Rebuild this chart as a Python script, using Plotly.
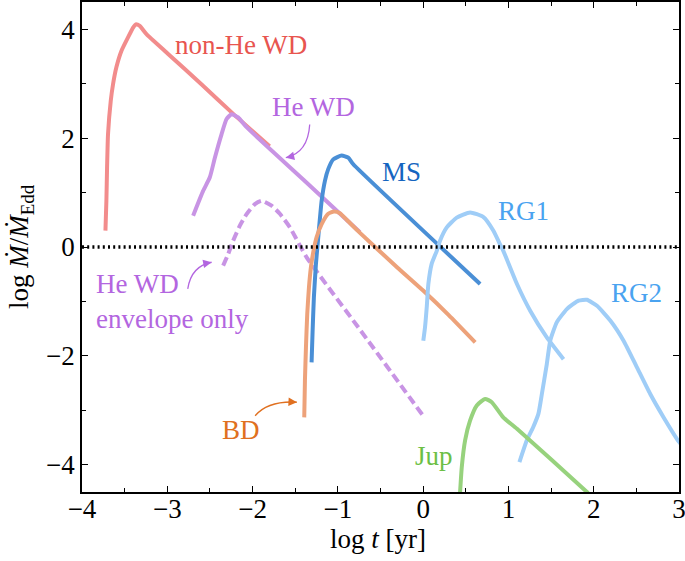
import math
import plotly.graph_objects as go

# ---------------- data ----------------
non_he_wd_x = [-3.725, -3.714, -3.706, -3.695, -3.663, -3.636, -3.597, -3.538, -3.46, -3.401, -3.37, -3.323, -3.244, -3.0, -2.6, -2.23, -1.80]
non_he_wd_y = [0.30, 0.85, 1.46, 2.07, 2.68, 2.99, 3.30, 3.60, 3.85, 4.03, 4.09, 4.06, 3.91, 3.56, 2.99, 2.45, 1.85]

he_wd_x = [-2.697, -2.58, -2.501, -2.442, -2.364, -2.305, -2.247, -2.169, -2.07, -1.4, -0.741]
he_wd_y = [0.574, 1.03, 1.28, 1.64, 2.07, 2.35, 2.44, 2.38, 2.20, 1.23, 0.27]

he_env_x = [-2.345, -2.286, -2.228, -2.149, -2.07, -1.973, -1.894, -1.777, -1.68, -1.562, -1.366, -0.761, 0.0]
he_env_y = [-0.343, -0.129, 0.116, 0.391, 0.605, 0.788, 0.85, 0.76, 0.61, 0.36, -0.19, -1.475, -3.10]

ms_x = [-1.308, -1.296, -1.281, -1.257, -1.23, -1.19, -1.151, -1.113, -1.054, -0.956, -0.878, -0.819, 0.668]
ms_y = [-2.12, -1.54, -0.92, -0.31, 0.18, 0.85, 1.22, 1.43, 1.61, 1.68, 1.64, 1.52, -0.68]

bd_x = [-1.394, -1.386, -1.374, -1.359, -1.339, -1.316, -1.289, -1.249, -1.19, -1.113, -1.046, -0.976, -0.897, -0.741, -0.3, 0.0, 0.3, 0.61]
bd_y = [-3.13, -2.45, -1.84, -1.23, -0.74, -0.37, -0.10, 0.18, 0.42, 0.61, 0.65, 0.62, 0.50, 0.26, -0.38, -0.80, -1.25, -1.75]

rg1_x = [0.002, 0.022, 0.042, 0.061, 0.10, 0.16, 0.198, 0.277, 0.394, 0.55, 0.707, 0.824, 0.90, 0.94, 1.10, 1.255, 1.45, 1.646]
rg1_y = [-1.72, -1.475, -1.11, -0.68, -0.31, -0.07, 0.116, 0.36, 0.54, 0.635, 0.55, 0.30, 0.055, -0.07, -0.68, -1.17, -1.66, -2.06]

rg2_x = [1.129, 1.216, 1.29, 1.352, 1.392, 1.45, 1.49, 1.568, 1.685, 1.822, 1.92, 2.038, 2.194, 2.35, 2.507, 2.663, 2.82, 3.0, 3.05]
rg2_y = [-3.95, -3.55, -3.31, -3.06, -2.70, -2.15, -1.72, -1.38, -1.14, -0.985, -0.97, -1.08, -1.35, -1.72, -2.21, -2.70, -3.13, -3.58, -3.67]

jup_x = [0.43, 0.433, 0.453, 0.492, 0.55, 0.629, 0.727, 0.805, 0.94, 1.10, 1.92, 1.95]
jup_y = [-4.55, -4.50, -4.04, -3.55, -3.19, -2.91, -2.79, -2.85, -3.13, -3.34, -4.50, -4.55]

x_ticks = [-4, -3, -2, -1, 0, 1, 2, 3]
y_ticks = [-4, -2, 0, 2, 4]

label_text = ["non-He WD", "He WD", "MS", "RG1", "RG2", "BD", "Jup"]
label_x = [-2.14, -1.29, -0.25, 1.18, 2.50, -2.13, 0.13]
label_y = [3.71, 2.57, 1.38, 0.67, -0.84, -3.37, -3.83]
label_color = ["#e8554f", "#b366e0", "#1565c0", "#4aa3f0", "#4aa3f0", "#e07020", "#6cbf45"]

env_text = "He WD<br>envelope only"
env_x = -3.86
env_y = -1.01

# curved arrows: start, control, end (data coords)
arrow_start = [(-1.33, 2.25), (-2.76, -0.77), (-1.97, -3.10)]
arrow_ctrl = [(-1.35, 1.73), (-2.72, -0.35), (-1.82, -2.82)]
arrow_end = [(-1.61, 1.64), (-2.48, -0.28), (-1.48, -2.85)]
arrow_color = ["#b366e0", "#b366e0", "#e07020"]

FONT = '"Liberation Serif", "Times New Roman", Times, "DejaVu Serif", serif'

X_PX = 597 / 7.0   # px per x unit
Y_PX = 490 / 9.0   # px per y unit

fig = go.Figure()

def add_line(x, y, color, dash="solid"):
    fig.add_trace(go.Scatter(x=x, y=y, mode="lines",
                             line=dict(color=color, width=4, dash=dash, shape="spline", smoothing=0.5),
                             hoverinfo="skip", showlegend=False))

add_line(non_he_wd_x, non_he_wd_y, "#f28c8c")
add_line(he_wd_x, he_wd_y, "#c894e4")
add_line(he_env_x, he_env_y, "#c894e4", dash="9px,4.5px")
add_line(ms_x, ms_y, "#4a8fd6")
add_line(bd_x, bd_y, "#eda27a")
add_line(rg1_x, rg1_y, "#9fcdf7")
add_line(rg2_x, rg2_y, "#9fcdf7")
add_line(jup_x, jup_y, "#97d27d")

# zero line
fig.add_trace(go.Scatter(x=[-4, 3], y=[0, 0], mode="lines",
                         line=dict(color="black", width=3.5, dash="2px,3.2px"),
                         hoverinfo="skip", showlegend=False))

annotations = []
for t, x, y, c in zip(label_text, label_x, label_y, label_color):
    annotations.append(dict(x=x, y=y, xref="x", yref="y", text=t, showarrow=False,
                            font=dict(family=FONT, size=27, color=c),
                            xanchor="center", yanchor="middle"))
annotations.append(dict(x=env_x, y=env_y, xref="x", yref="y", text=env_text, showarrow=False,
                        font=dict(family=FONT, size=27, color="#b366e0"),
                        xanchor="left", yanchor="middle", align="left"))

shapes = []
for (s, c, e, col) in zip(arrow_start, arrow_ctrl, arrow_end, arrow_color):
    path = f"M {s[0]},{s[1]} Q {c[0]},{c[1]} {e[0]},{e[1]}"
    shapes.append(dict(type="path", path=path, xref="x", yref="y",
                       line=dict(color=col, width=1.3)))
    dx = (e[0] - c[0]) * X_PX
    dy = -(e[1] - c[1]) * Y_PX
    n = math.hypot(dx, dy)
    annotations.append(dict(x=e[0], y=e[1], ax=-dx / n * 9, ay=-dy / n * 9, xref="x", yref="y",
                            text="", showarrow=True,
                            arrowhead=2, arrowsize=1.3, arrowwidth=1.3, arrowcolor=col,
                            standoff=0))

# axis titles
annotations.append(dict(x=-0.102, y=0.5, xref="paper", yref="paper",
                        text="log <i>Ṁ</i>/<i>Ṁ</i><sub>Edd</sub>", textangle=-90,
                        showarrow=False, font=dict(family=FONT, size=27, color="black"),
                        xanchor="center", yanchor="middle"))
annotations.append(dict(x=0.496, y=-0.096, xref="paper", yref="paper",
                        text="log <i>t</i> [yr]", showarrow=False,
                        font=dict(family=FONT, size=27, color="black"),
                        xanchor="center", yanchor="middle"))

axis_common = dict(showline=True, linecolor="black", linewidth=1.6, mirror="ticks",
                   ticks="inside", ticklen=6, tickwidth=1.4, tickcolor="black",
                   showgrid=False, zeroline=False, automargin=False,
                   ticklabeloverflow="allow",
                   tickfont=dict(family=FONT, size=27, color="black"))

fig.update_layout(
    width=685, height=561,
    margin=dict(l=82, r=6, t=2, b=69),
    paper_bgcolor="white", plot_bgcolor="white",
    showlegend=False,
    xaxis=dict(range=[-4, 3], tickmode="array", tickvals=x_ticks, ticklabelstandoff=-8,
               minor=dict(dtick=0.5, ticks="inside", ticklen=4, tickwidth=1.2, tickcolor="black", showgrid=False),
               **axis_common),
    yaxis=dict(range=[-4.5, 4.5], tickmode="array", tickvals=y_ticks,
               minor=dict(dtick=1, ticks="inside", ticklen=4, tickwidth=1.2, tickcolor="black", showgrid=False),
               **axis_common),
    annotations=annotations,
    shapes=shapes,
)

fig.write_html("out.html", config={"displayModeBar": False},
               post_script="document.body.style.margin='0';document.body.style.padding='0';")
